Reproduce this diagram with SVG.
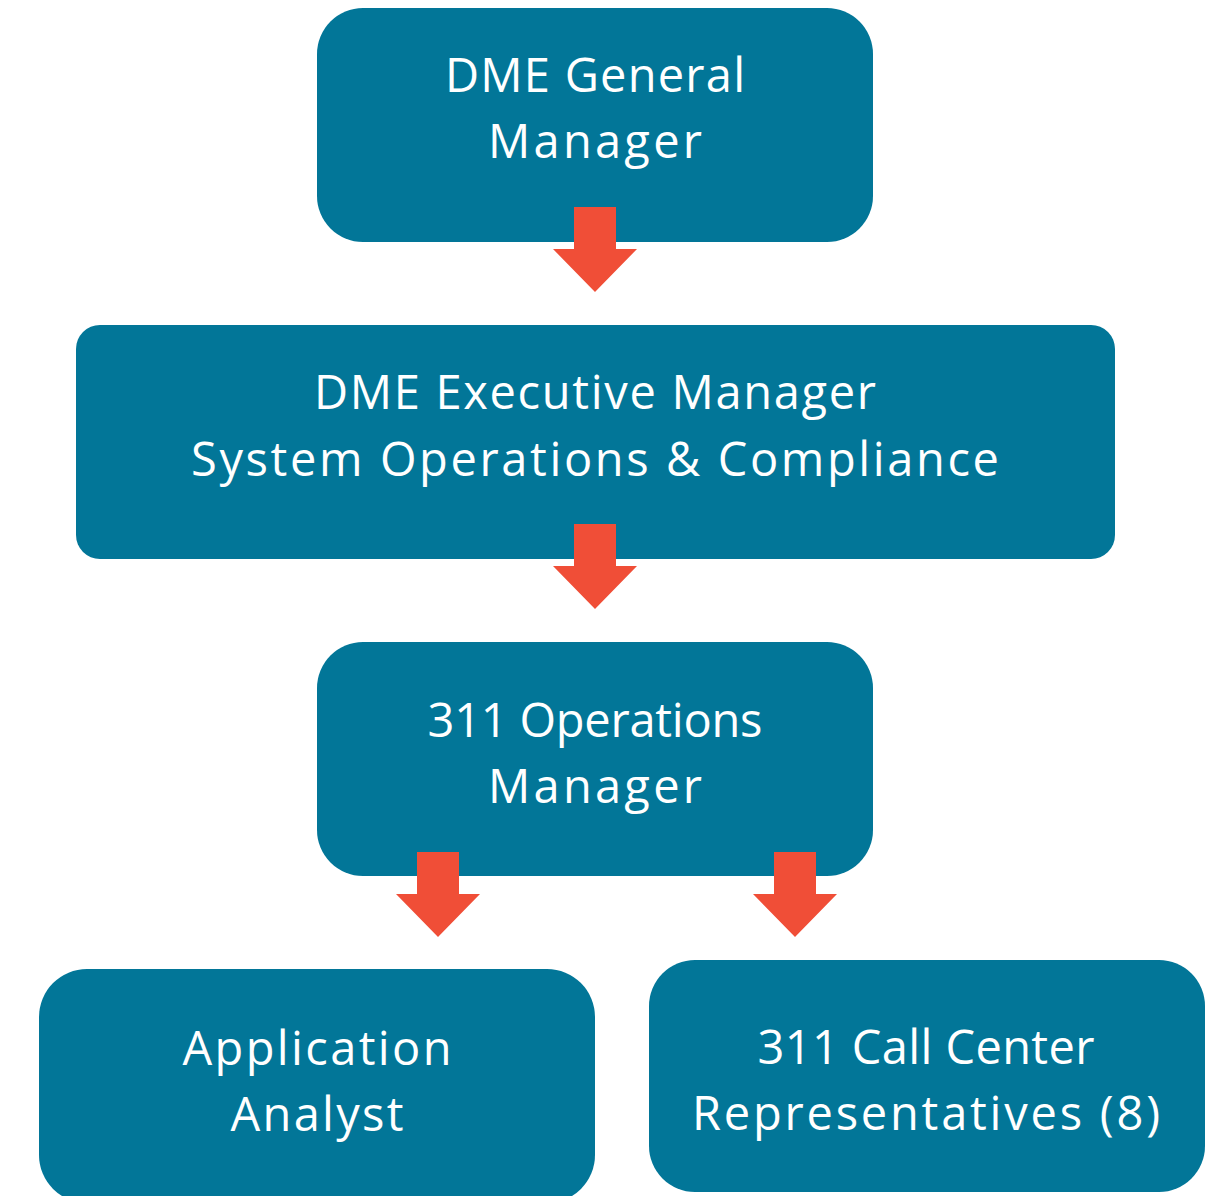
<svg xmlns="http://www.w3.org/2000/svg" width="1214" height="1196" viewBox="0 0 1214 1196">
  <style>
    .box { fill: #027698; }
    .lbl { fill: #ffffff; font-family: "Open Sans", "Noto Sans", "Liberation Sans", sans-serif; font-size: 47px; text-anchor: middle; }
    .arrow { fill: #F04E37; }
  </style>
  <defs>
    <!-- block arrow pointing down, origin at top-centre of stem -->
    <path id="down" d="M-21,0 H21 V42 H42 L0,85 L-42,42 H-21 Z"/>
  </defs>
  <rect width="1214" height="1196" fill="#ffffff"/>

  <g id="node-general-manager">
    <rect class="box" x="317" y="8" width="556" height="234" rx="46"/>
    <text class="lbl" x="595" y="92" textLength="300" lengthAdjust="spacing">DME General</text>
    <text class="lbl" x="595" y="158" textLength="214" lengthAdjust="spacing">Manager</text>
  </g>

  <g id="node-executive-manager">
    <rect class="box" x="76" y="325" width="1039" height="234" rx="24"/>
    <text class="lbl" x="595" y="409" textLength="562" lengthAdjust="spacing">DME Executive Manager</text>
    <text class="lbl" x="595" y="476" textLength="808" lengthAdjust="spacing">System Operations &amp; Compliance</text>
  </g>

  <g id="node-operations-manager">
    <rect class="box" x="317" y="642" width="556" height="234" rx="46"/>
    <text class="lbl" x="595" y="737" textLength="335" lengthAdjust="spacing">311 Operations</text>
    <text class="lbl" x="595" y="803" textLength="214" lengthAdjust="spacing">Manager</text>
  </g>

  <g id="node-application-analyst">
    <rect class="box" x="39" y="969" width="556" height="234" rx="48"/>
    <text class="lbl" x="317" y="1065" textLength="269" lengthAdjust="spacing">Application</text>
    <text class="lbl" x="317" y="1131" textLength="173" lengthAdjust="spacing">Analyst</text>
  </g>

  <g id="node-call-center">
    <rect class="box" x="649" y="960" width="556" height="232" rx="46"/>
    <text class="lbl" x="926" y="1064" textLength="337" lengthAdjust="spacing">311 Call Center</text>
    <text class="lbl" x="926" y="1130" textLength="468" lengthAdjust="spacing">Representatives (8)</text>
  </g>

  <g id="connectors">
    <use class="arrow" href="#down" x="595" y="207"/>
    <use class="arrow" href="#down" x="595" y="524"/>
    <use class="arrow" href="#down" x="438" y="852"/>
    <use class="arrow" href="#down" x="795" y="852"/>
  </g>
</svg>
